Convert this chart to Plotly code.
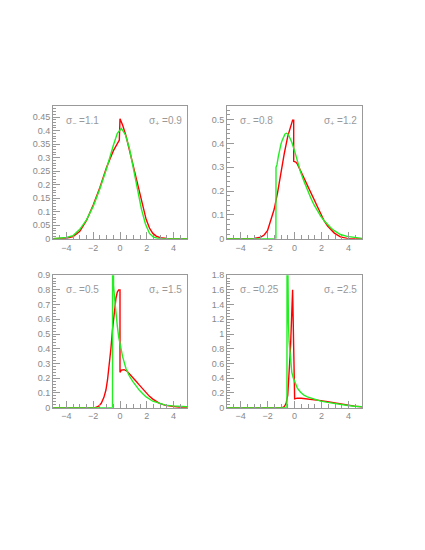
import plotly.graph_objects as go
from plotly.subplots import make_subplots

# ---- panel 1: sigma- = 1.1, sigma+ = 0.9 ----
x_red_1 = [-5, -4.5, -4, -3.5, -3, -2.5, -2, -1.5, -1, -0.5, -0.25, -0.05, 0.0, 0.2, 0.45, 0.7,
           0.95, 1.2, 1.45, 1.7, 1.95, 2.2, 2.45, 2.7, 3.0, 3.5, 5]
y_red_1 = [0, 0.0005, 0.002, 0.008, 0.028, 0.068, 0.125, 0.19, 0.265, 0.325, 0.35, 0.365, 0.444, 0.42,
           0.38, 0.33, 0.28, 0.225, 0.17, 0.12, 0.072, 0.04, 0.02, 0.01, 0.004, 0.001, 0]
x_grn_1 = [-5, -4.5, -4, -3.5, -3, -2.5, -2, -1.5, -1, -0.5, -0.2, 0.1, 0.4, 0.7, 1.0, 1.3,
           1.6, 1.9, 2.2, 2.5, 2.8, 3.2, 5]
y_grn_1 = [0, 0.002, 0.005, 0.012, 0.035, 0.07, 0.12, 0.185, 0.26, 0.345, 0.39, 0.408, 0.385, 0.335,
           0.265, 0.185, 0.11, 0.055, 0.02, 0.006, 0.002, 0, 0]

# ---- panel 2: sigma- = 0.8, sigma+ = 1.2 ----
x_red_2 = [-5, -3, -2.5, -2.25, -2, -1.75, -1.5, -1.25, -1.0, -0.75, -0.5, -0.3, -0.14, -0.06, -0.06,
           0.1, 0.2, 0.45, 0.7, 0.95, 1.2, 1.45, 1.7, 1.95, 2.2, 2.45, 2.7, 2.95, 3.4, 3.9, 4.5, 5]
y_red_2 = [0, 0.001, 0.007, 0.016, 0.034, 0.075, 0.125, 0.195, 0.28, 0.36, 0.43, 0.468, 0.498, 0.498, 0.325,
           0.322, 0.315, 0.285, 0.255, 0.225, 0.195, 0.162, 0.13, 0.1, 0.075, 0.054, 0.038, 0.024,
           0.008, 0.002, 0, 0]
x_grn_2 = [-5, -1.38, -1.37, -1.3, -1.2, -1.1, -1.0, -0.9, -0.8, -0.7, -0.6, -0.5, -0.4, -0.2, 0.0,
           0.2, 0.45, 0.7, 0.95, 1.2, 1.45, 1.7, 1.95, 2.2, 2.45, 2.7, 2.95, 3.4, 3.9, 4.4, 5]
y_grn_2 = [0, 0, 0.3, 0.31, 0.345, 0.375, 0.398, 0.415, 0.43, 0.44, 0.443, 0.44, 0.43, 0.405, 0.37,
           0.33, 0.28, 0.242, 0.205, 0.172, 0.142, 0.117, 0.094, 0.076, 0.058, 0.045, 0.034, 0.018,
           0.01, 0.005, 0.002]

# ---- panel 3: sigma- = 0.5, sigma+ = 1.5 ----
x_red_3 = [-5, -1.85, -1.6, -1.4, -1.2, -1.05, -0.93, -0.8, -0.68, -0.56, -0.43, -0.3, -0.2, -0.1,
           0.0, 0.0, 0.1, 0.3, 0.5, 0.7, 0.95, 1.2, 1.45, 1.7, 1.95, 2.2, 2.45, 2.7, 2.95, 3.4, 3.9,
           4.4, 5]
y_red_3 = [0, 0, 0.01, 0.03, 0.07, 0.12, 0.19, 0.28, 0.4, 0.53, 0.655, 0.745, 0.785, 0.8,
           0.8, 0.24, 0.255, 0.258, 0.25, 0.232, 0.207, 0.18, 0.153, 0.125, 0.098, 0.077, 0.058,
           0.042, 0.029, 0.016, 0.007, 0.003, 0.001]
x_grn_3 = [-5, -0.56, -0.55, -0.48, -0.4, -0.3, -0.2, -0.1, 0.0, 0.2, 0.45, 0.7, 0.95, 1.2, 1.45,
           1.7, 1.95, 2.45, 2.95, 3.4, 3.9, 4.4, 5]
y_grn_3 = [0, 0, 2.0, 0.83, 0.74, 0.63, 0.555, 0.48, 0.43, 0.345, 0.265, 0.215, 0.178, 0.145, 0.118,
           0.094, 0.073, 0.044, 0.027, 0.017, 0.012, 0.009, 0.006]

# ---- panel 4: sigma- = 0.25, sigma+ = 2.5 ----
x_red_4 = [-5, -0.9, -0.75, -0.62, -0.5, -0.4, -0.3, -0.22, -0.14, 0.01, 0.2, 0.5, 0.95, 1.45,
           1.95, 2.45, 2.95, 3.45, 3.95, 4.45, 5]
y_red_4 = [0, 0, 0.015, 0.06, 0.17, 0.42, 0.8, 1.2, 1.6, 0.12, 0.13, 0.128, 0.12, 0.11, 0.096,
           0.082, 0.065, 0.05, 0.035, 0.022, 0.01]
x_grn_4 = [-5, -0.56, -0.55, -0.5, -0.45, -0.4, -0.3, -0.2, -0.1, 0.0, 0.2, 0.45, 0.7, 0.95, 1.45,
           1.95, 2.45, 2.95, 3.45, 3.95, 4.45, 5]
y_grn_4 = [0, 0, 3.0, 1.6, 1.15, 0.9, 0.64, 0.48, 0.41, 0.36, 0.27, 0.21, 0.17, 0.147, 0.118,
           0.09, 0.072, 0.056, 0.042, 0.03, 0.02, 0.012]

sig_minus = ["1.1", "0.8", "0.5", "0.25"]
sig_plus = ["0.9", "1.2", "1.5", "2.5"]
y_max = [0.49, 0.556, 0.9, 1.8]
y_dtick = [0.05, 0.1, 0.1, 0.2]

panels = [
    (x_red_1, y_red_1, x_grn_1, y_grn_1),
    (x_red_2, y_red_2, x_grn_2, y_grn_2),
    (x_red_3, y_red_3, x_grn_3, y_grn_3),
    (x_red_4, y_red_4, x_grn_4, y_grn_4),
]

W, H = 425, 550
OFF = 8  # page body margin
# frame boxes in screen pixels: left, right, top, bottom
boxes = [(53, 187, 103, 238), (227, 362, 103, 238), (53, 187, 275, 410), (227, 362, 275, 410)]

fig = make_subplots(rows=2, cols=2)
grey = "#999999"
tickfont = dict(family="Liberation Sans, Arial, sans-serif", size=9, color="#888888")

for i, (xr, yr, xg, yg) in enumerate(panels):
    row, col = i // 2 + 1, i % 2 + 1
    fig.add_trace(go.Scatter(x=xr, y=yr, mode="lines", line=dict(color="#ff0000", width=1.4),
                             showlegend=False, hoverinfo="skip"), row=row, col=col)
    fig.add_trace(go.Scatter(x=xg, y=yg, mode="lines", line=dict(color="#22ee22", width=1.4),
                             showlegend=False, hoverinfo="skip"), row=row, col=col)

    l, r, t, b = [v - OFF for v in boxes[i]]
    xa = "xaxis" if i == 0 else f"xaxis{i + 1}"
    ya = "yaxis" if i == 0 else f"yaxis{i + 1}"
    fig.update_layout(**{
        xa: dict(domain=[l / W, r / W], range=[-5, 5], tick0=0, dtick=2, ticks="inside", ticklen=7,
                 tickcolor=grey, showline=True, linecolor=grey, linewidth=1, mirror=True,
                 showgrid=False, zeroline=False, tickfont=tickfont,
                 minor=dict(dtick=0.5, ticks="inside", ticklen=4, tickcolor=grey, showgrid=False)),
        ya: dict(domain=[1 - b / H, 1 - t / H], range=[0, y_max[i]], tick0=0, dtick=y_dtick[i],
                 ticks="inside", ticklen=7, tickcolor=grey, showline=True, linecolor=grey,
                 linewidth=1, mirror=True, showgrid=False, zeroline=False, tickfont=tickfont,
                 minor=dict(dtick=y_dtick[i] / 5, ticks="inside", ticklen=3, tickcolor=grey,
                            showgrid=False)),
    })

    xref = "x domain" if i == 0 else f"x{i + 1} domain"
    yref = "y domain" if i == 0 else f"y{i + 1} domain"
    afont = dict(family="Liberation Sans, Arial, sans-serif", size=10, color="#999999")
    fig.add_annotation(x=0.08, y=0.95, xref=xref, yref=yref, xanchor="left", yanchor="top",
                       text=f"σ<sub>−</sub> ={sig_minus[i]}", showarrow=False, font=afont)
    fig.add_annotation(x=0.98, y=0.95, xref=xref, yref=yref, xanchor="right", yanchor="top",
                       text=f"σ<sub>+</sub> ={sig_plus[i]}", showarrow=False, font=afont)

fig.update_layout(
    width=W, height=H,
    margin=dict(l=0, r=0, t=0, b=0),
    paper_bgcolor="white",
    plot_bgcolor="white",
    showlegend=False,
)

fig.write_html("out.html")
